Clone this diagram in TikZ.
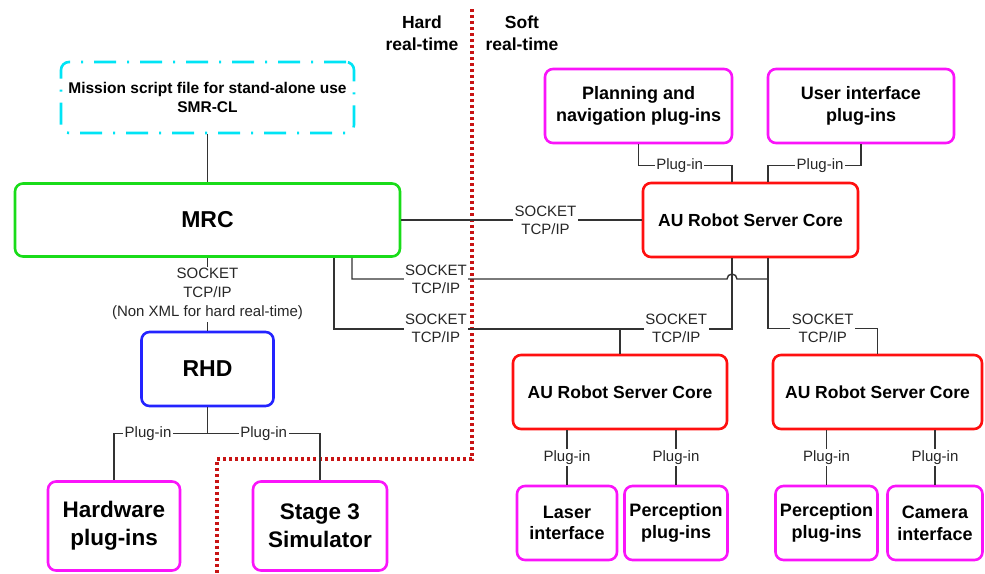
\documentclass[tikz,border=0pt]{standalone}
\usepackage{fontspec}
\setmainfont{Liberation Sans}
\usetikzlibrary{positioning}

\definecolor{mrcgreen}{RGB}{25,220,25}
\definecolor{scriptcyan}{RGB}{0,228,245}
\definecolor{rhdblue}{RGB}{35,35,255}
\definecolor{corered}{RGB}{255,15,15}
\definecolor{plugmag}{RGB}{250,20,250}
\definecolor{limitred}{RGB}{200,20,20}

\begin{document}
\begin{tikzpicture}[x=1pt,y=-1pt,
  blk/.style={draw,rounded corners=8pt,line width=2.6pt,align=center,inner sep=0pt},
  core/.style={blk,draw=corered,minimum width=213pt,minimum height=74pt,font=\fontsize{17.5}{21}\selectfont\bfseries},
  plug/.style={blk,draw=plugmag,minimum height=74pt,font=\fontsize{18}{21.7}\selectfont\bfseries},
  lbl/.style={fill=white,inner sep=1.5pt,align=center,text=black!85,font=\fontsize{15}{18}\selectfont},
  conn/.style={line width=1.4pt,black!80},
  zone/.style={align=center,font=\fontsize{17.5}{21.7}\selectfont\bfseries}]

  \useasboundingbox (0,0) rectangle (985,573);

  % Hard / soft real-time border
  \draw[limitred,line width=3.2pt,dash pattern=on 3pt off 3pt] (472,9) -- (472,459) -- (217,459) -- (217,573);
  \node [zone] at (422,33) (hard) {Hard\\real-time};
  \node [zone] at (522,33) (soft) {Soft\\real-time};

  % Left side
  \node [blk,draw=scriptcyan,dash pattern=on 22pt off 11pt on 2pt off 11pt,minimum width=293pt,minimum height=71pt,
         font=\fontsize{15.5}{19}\selectfont\bfseries] at (207.5,97.5) (script) {Mission script file for stand-alone use\\SMR-CL};
  \node [blk,draw=mrcgreen,minimum width=385pt,minimum height=73pt,font=\fontsize{23}{27}\selectfont\bfseries] at (207.5,220) (mrc) {MRC};
  \node [blk,draw=rhdblue,minimum width=132pt,minimum height=74pt,font=\fontsize{23}{27}\selectfont\bfseries] at (207.5,369) (rhd) {RHD};
  \node [plug,minimum width=132pt,minimum height=89pt,font=\fontsize{22.5}{27.7}\selectfont\bfseries] at (114,526) (hw) {Hardware\\plug-ins};
  \node [plug,minimum width=134pt,minimum height=89pt,font=\fontsize{22.5}{27.7}\selectfont\bfseries] at (320,526) (stage) {Stage 3\\Simulator};

  % Right side
  \node [plug,minimum width=187pt] at (638.5,106) (plan) {Planning and\\navigation plug-ins};
  \node [plug,minimum width=186pt] at (861,106) (ui) {User interface\\plug-ins};
  \node [core,minimum width=215pt] at (750.5,220) (srv) {AU Robot Server Core};
  \node [core,minimum width=214pt] at (620,392) (srvl) {AU Robot Server Core};
  \node [core,minimum width=209pt] at (877.5,392) (srvr) {AU Robot Server Core};
  \node [plug,minimum width=100pt] at (567,523) (laser) {Laser\\interface};
  \node [plug,minimum width=103pt] at (676,523) (percl) {Perception\\plug-ins};
  \node [plug,minimum width=102pt] at (826.5,523) (percr) {Perception\\plug-ins};
  \node [plug,minimum width=95pt] at (935,523) (cam) {Camera\\interface};

  \coordinate (hop) at (732,279);
  \coordinate (jr) at (768,279);
  \coordinate (jl) at (620,328);

  % Connections
  \draw[conn] (script) -- (mrc);
  \draw[conn] (mrc) -- node[lbl,font=\fontsize{15}{19}\selectfont] (nonxml) {SOCKET\\TCP/IP\\(Non XML for hard real-time)} (rhd);
  \draw[conn] (mrc) -- node[lbl,pos=0.6] (sock1) {SOCKET\\TCP/IP} (srv);
  \draw[conn] ([xshift=144.5pt]mrc.south) |- node[lbl,pos=0.612] (sock2) {SOCKET\\TCP/IP} ([xshift=-5pt]hop)
        arc[start angle=180,end angle=0,radius=5pt] -- (jr);
  \draw[conn] ([xshift=126.5pt]mrc.south) -- ++(0,71) -| node[lbl,pos=0.128] (sock3) {SOCKET\\TCP/IP}
        node[lbl,pos=0.43] (sock4) {SOCKET\\TCP/IP} ([xshift=-18.5pt]srv.south);
  \draw[conn] (srvl) -- (jl);
  \draw[conn] ([xshift=17.5pt]srv.south) -- ++(0,70) -| node[lbl,pos=0.25] (sock5) {SOCKET\\TCP/IP} (srvr);

  % Plug-ins
  \draw[conn] (plan.south) -- ++(0,21) -| node[lbl,pos=0.22] (p1) {Plug-in} ([xshift=-18.5pt]srv.north);
  \draw[conn] (ui.south) -- ++(0,21) -| node[lbl,pos=0.22] (p2) {Plug-in} ([xshift=17.5pt]srv.north);
  \draw[conn] (rhd.south) -- ++(0,26) coordinate (rj) -| node[lbl,pos=0.318] (p3) {Plug-in} (hw);
  \draw[conn] (rj) -| node[lbl,pos=0.25] (p4) {Plug-in} (stage);
  \draw[conn] ([xshift=-53pt]srvl.south) -- node[lbl] (p5) {Plug-in} (laser);
  \draw[conn] ([xshift=56pt]srvl.south) -- node[lbl] (p6) {Plug-in} (percl);
  \draw[conn] ([xshift=-51pt]srvr.south) -- node[lbl] (p7) {Plug-in} (percr);
  \draw[conn] ([xshift=57.5pt]srvr.south) -- node[lbl] (p8) {Plug-in} (cam);

\end{tikzpicture}
\end{document}
